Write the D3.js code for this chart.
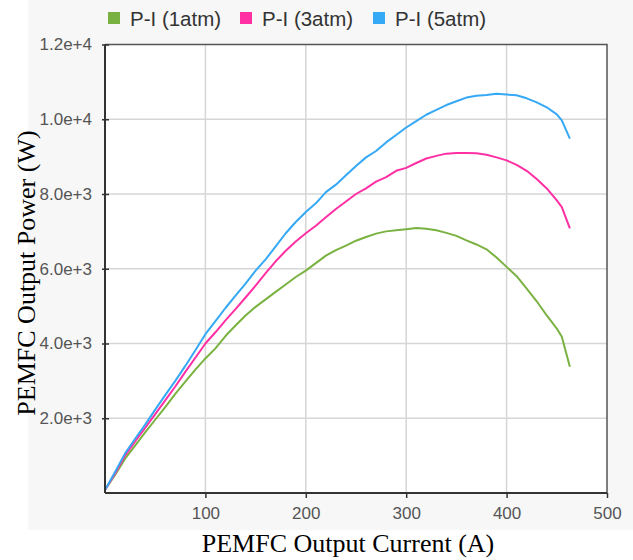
<!DOCTYPE html>
<html>
<head>
<meta charset="utf-8">
<script src="https://cdn.jsdelivr.net/npm/d3@7"></script>
<style>
  body { margin: 0; background: #fff; }
  svg { display: block; }
</style>
</head>
<body>
<div id="chart"></div>
<script>
// data
const current = [0, 10, 20, 30, 40, 50, 60, 70, 80, 90, 100, 110, 120, 130, 140, 150, 160, 170, 180, 190,
  200, 210, 220, 230, 240, 250, 260, 270, 280, 290, 300, 310, 320, 330, 340, 350, 360, 370, 380, 390,
  400, 410, 420, 430, 440, 450, 455, 463];

const p1atm = [80, 480, 920, 1270, 1620, 1960, 2300, 2650, 2980, 3300, 3600, 3870, 4200, 4480, 4750, 4980, 5180, 5380, 5580, 5780,
  5950, 6150, 6350, 6500, 6620, 6750, 6850, 6940, 7000, 7030, 7060, 7090, 7070, 7030, 6960, 6880, 6760, 6650, 6520, 6300,
  6050, 5800, 5470, 5130, 4750, 4400, 4180, 3380];

const p3atm = [80, 520, 1000, 1380, 1740, 2110, 2480, 2850, 3240, 3620, 4000, 4300, 4620, 4920, 5230, 5550, 5880, 6200, 6480, 6730,
  6950, 7150, 7380, 7600, 7800, 8000, 8150, 8330, 8450, 8620, 8700, 8830, 8950, 9020, 9080, 9100, 9100, 9090, 9050, 8980,
  8900, 8780, 8620, 8400, 8150, 7830, 7650, 7080];

const p5atm = [80, 560, 1060, 1450, 1830, 2230, 2620, 3000, 3400, 3820, 4250, 4600, 4950, 5280, 5600, 5950, 6250, 6600, 6950, 7250,
  7520, 7750, 8050, 8250, 8500, 8750, 8980, 9150, 9380, 9580, 9780, 9950, 10120, 10250, 10380, 10480, 10580, 10630, 10650, 10680,
  10660, 10640, 10560, 10450, 10320, 10130, 9970, 9480];

const seriesNames = ["P-I (1atm)", "P-I (3atm)", "P-I (5atm)"];
const seriesColors = ["#7ab241", "#ff2fa4", "#35a9f5"];
const xTicks = [100, 200, 300, 400, 500];
const yTicks = [2000, 4000, 6000, 8000, 10000, 12000];

const w = 633, h = 560;
const plotL = 105, plotR = 607, plotT = 44.5, plotB = 493;

const svg = d3.select("#chart").append("svg")
  .attr("width", w)
  .attr("height", h);

// grey chart background
svg.append("rect")
  .attr("x", 28).attr("y", 0)
  .attr("width", w - 28).attr("height", 530)
  .attr("fill", "#f7f7f7");

svg.append("rect")
  .attr("x", plotL).attr("y", plotT)
  .attr("width", plotR - plotL).attr("height", plotB - plotT)
  .attr("fill", "#fff");

const x = d3.scaleLinear().domain([0, 500]).range([plotL, plotR]);
const y = d3.scaleLinear().domain([0, 12000]).range([plotB, plotT]);

// grid
svg.append("g")
  .selectAll("line")
  .data(xTicks.slice(0, -1))
  .enter().append("line")
  .attr("x1", d => x(d)).attr("x2", d => x(d))
  .attr("y1", plotT).attr("y2", plotB)
  .attr("stroke", "#d6d6d6").attr("stroke-width", 1.5);

svg.append("g")
  .selectAll("line")
  .data(yTicks.slice(0, -1))
  .enter().append("line")
  .attr("x1", plotL).attr("x2", plotR)
  .attr("y1", d => y(d)).attr("y2", d => y(d))
  .attr("stroke", "#d6d6d6").attr("stroke-width", 1.5);

// frame top/right
svg.append("path")
  .attr("d", `M${plotL},${plotT}H${plotR}V${plotB}`)
  .attr("fill", "none")
  .attr("stroke", "#555").attr("stroke-width", 1.5);

// lines
const line = d3.line()
  .x((d, i) => x(current[i]))
  .y(d => y(d));

[p1atm, p3atm, p5atm].forEach((s, k) => {
  svg.append("path")
    .datum(s)
    .attr("d", line)
    .attr("fill", "none")
    .attr("stroke", seriesColors[k])
    .attr("stroke-width", 2)
    .attr("stroke-linejoin", "round");
});

// axes
const xAxis = d3.axisBottom(x).tickValues(xTicks).tickSize(5).tickPadding(9);
const yAxis = d3.axisLeft(y).tickValues(yTicks).tickSize(4).tickPadding(9)
  .tickFormat(d3.format(".1e"));

const gx = svg.append("g")
  .attr("transform", "translate(0," + plotB + ")")
  .call(xAxis);

const gy = svg.append("g")
  .attr("transform", "translate(" + plotL + ",0)")
  .call(yAxis);

[gx, gy].forEach(g => {
  g.select(".domain").attr("stroke", "#333").attr("stroke-width", 2);
  g.selectAll(".tick line").attr("stroke", "#333").attr("stroke-width", 1.5);
  g.selectAll(".tick text")
    .attr("fill", "#555")
    .style("font-family", "'Liberation Sans', Arial, sans-serif")
    .style("font-size", "17px");
});
gy.selectAll(".tick line").attr("x2", 4).attr("x1", -3);
gy.select(".domain").attr("d", `M0,${plotB}V${plotT}`);
gx.select(".domain").attr("d", `M${plotL},0H${plotR}`);

// legend
const legendX = [108, 240, 373];
const legend = svg.append("g");
seriesNames.forEach((name, k) => {
  legend.append("rect")
    .attr("x", legendX[k]).attr("y", 12)
    .attr("width", 12).attr("height", 12)
    .attr("fill", seriesColors[k]);
  legend.append("text")
    .attr("x", legendX[k] + 22).attr("y", 25.5)
    .text(name)
    .attr("fill", "#333")
    .style("font-family", "'Liberation Sans', Arial, sans-serif")
    .style("font-size", "20.5px");
});

// axis titles
svg.append("text")
  .text("PEMFC Output Current (A)")
  .attr("x", 348).attr("y", 552)
  .attr("text-anchor", "middle")
  .style("font-family", "'Liberation Serif', 'Times New Roman', serif")
  .style("font-size", "26px");

svg.append("text")
  .text("PEMFC Output Power (W)")
  .attr("transform", "translate(35,273) rotate(-90)")
  .attr("text-anchor", "middle")
  .style("font-family", "'Liberation Serif', 'Times New Roman', serif")
  .style("font-size", "26px");
</script>
</body>
</html>
